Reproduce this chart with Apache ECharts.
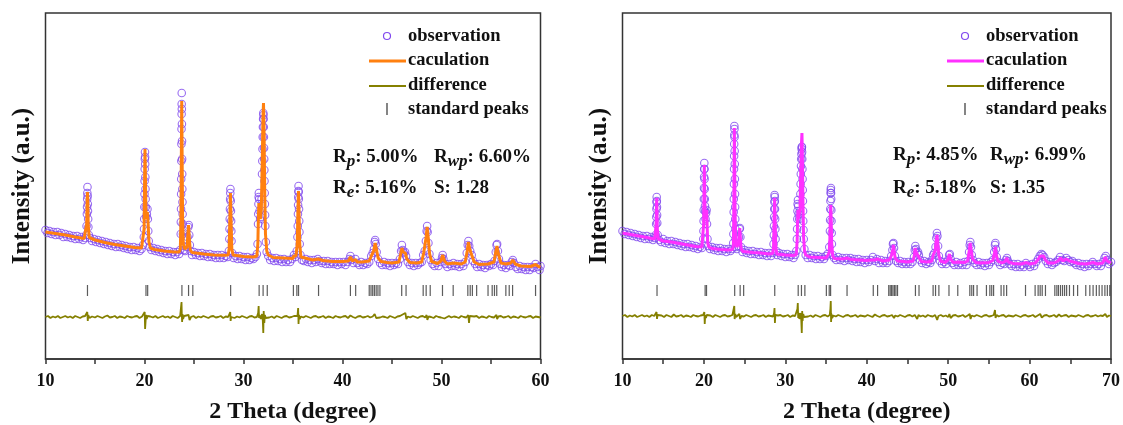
<!DOCTYPE html>
<html>
<head>
<meta charset="utf-8">
<script src="https://cdn.jsdelivr.net/npm/echarts@6/dist/echarts.min.js"></script>
<style>
  html, body { margin: 0; padding: 0; background: #fff; }
  #chart { width: 1123px; height: 425px; }
</style>
</head>
<body>
<div id="chart"></div>
<script>
// x axis ticks
const xTicksLeft = [10, 20, 30, 40, 50, 60];
const xTicksRight = [10, 20, 30, 40, 50, 60, 70];

// standard peak positions (2 theta)
const stdPeaks = [14.24, 20.15, 20.32, 23.78, 24.45, 24.88, 28.70, 31.58, 31.98, 32.40, 35.04, 35.39, 35.56,
  37.58, 40.80, 41.33, 42.70, 42.88, 43.05, 43.22, 43.40, 43.58, 43.78, 45.98, 46.42, 48.15, 48.45, 48.86,
  50.10, 51.18, 52.66, 52.90, 53.12, 53.55, 54.70, 55.12, 55.35, 55.58, 56.50, 56.84, 57.18, 59.50, 60.68,
  61.05, 61.30, 61.55, 61.95, 63.10, 63.35, 63.55, 63.80, 64.05, 64.30, 64.55, 64.90, 65.40, 65.90, 66.90,
  67.40, 67.80, 68.20, 68.55, 68.90, 69.25, 69.55, 69.85];

// left sample: observed intensity (a.u.)
const obsLeft = [[10.0,129],[10.2,126],[10.4,128],[10.6,125],[10.8,127],[11.0,124],[11.2,127],[11.4,124],[11.6,126],[11.8,122],
  [12.0,125],[12.2,122],[12.4,124],[12.6,121],[12.8,123],[13.0,120],[13.2,123],[13.4,120],[13.6,122],[13.8,119],[14.0,121],
  [14.1,124],[14.15,133],[14.18,145],[14.21,160],[14.24,172],[14.26,163],[14.29,148],[14.33,132],[14.38,124],
  [14.5,121],[14.7,118],[14.9,120],[15.1,117],[15.3,119],[15.5,116],[15.7,118],[15.9,115],[16.1,117],[16.3,114],[16.5,116],
  [16.7,113],[16.9,115],[17.1,112],[17.3,115],[17.5,112],[17.7,114],[17.9,111],[18.1,113],[18.3,110],[18.5,112],[18.7,109],
  [18.9,112],[19.1,109],[19.3,111],[19.5,108],[19.7,110],[19.85,114],
  [19.93,122],[19.97,140],[20.0,165],[20.02,190],[20.05,207],[20.07,195],[20.1,170],[20.13,152],[20.18,142],[20.24,145],
  [20.3,150],[20.34,140],[20.38,128],[20.43,118],[20.5,112],
  [20.7,109],[20.9,111],[21.1,108],[21.3,110],[21.5,107],[21.7,109],[21.9,106],[22.1,108],[22.3,105],[22.5,108],[22.7,105],
  [22.9,107],[23.1,104],[23.3,107],[23.5,105],[23.6,109],
  [23.66,125],[23.69,150],[23.71,180],[23.73,215],[23.75,245],[23.76,266],[23.78,235],[23.8,200],[23.82,170],[23.85,145],
  [23.88,125],[23.93,113],[24.0,109],[24.1,108],[24.25,112],[24.35,122],[24.42,132],[24.47,134],[24.52,124],[24.58,114],[24.65,108],
  [24.8,104],[25.0,107],[25.2,104],[25.4,106],[25.6,103],[25.8,106],[26.0,103],[26.2,105],[26.4,102],[26.6,105],[26.8,102],
  [27.0,104],[27.2,101],[27.4,104],[27.6,101],[27.8,104],[28.0,101],[28.2,103],[28.4,102],
  [28.52,108],[28.57,120],[28.61,140],[28.65,160],[28.68,170],[28.71,158],[28.75,138],[28.79,118],[28.85,106],
  [29.0,101],[29.2,103],[29.4,100],[29.6,103],[29.8,100],[30.0,102],[30.2,99],[30.4,102],[30.6,99],[30.8,101],[31.0,100],
  [31.2,102],[31.35,105],
  [31.42,115],[31.47,135],[31.51,155],[31.55,166],[31.58,160],[31.62,148],[31.68,140],[31.74,142],[31.82,160],[31.87,185],
  [31.92,210],[31.96,232],[32.0,246],[32.03,240],[32.06,222],[32.09,200],[32.12,178],[32.16,155],[32.2,133],[32.26,117],[32.34,107],
  [32.5,103],[32.7,99],[32.9,101],[33.1,98],[33.3,101],[33.5,98],[33.7,100],[33.9,97],[34.1,100],[34.3,97],[34.5,99],
  [34.7,97],[34.9,100],[35.1,104],[35.25,102],[35.38,108],
  [35.45,122],[35.5,145],[35.53,162],[35.56,173],[35.59,160],[35.63,138],[35.68,115],[35.75,104],
  [35.9,99],[36.1,98],[36.3,100],[36.5,97],[36.7,99],[36.9,96],[37.1,99],[37.3,97],[37.5,100],[37.7,98],[37.9,96],[38.1,98],
  [38.3,95],[38.5,98],[38.7,95],[38.9,97],[39.1,95],[39.3,97],[39.5,94],[39.7,97],[39.9,95],[40.1,97],[40.3,94],[40.5,97],
  [40.7,100],[40.8,103],[40.9,99],[41.1,96],[41.3,100],[41.5,96],[41.7,94],[41.9,97],[42.1,94],[42.3,96],[42.5,95],[42.7,97],
  [42.9,103],[43.05,106],[43.18,110],[43.25,117],[43.3,119],[43.36,115],[43.45,107],[43.6,100],[43.8,96],[44.0,94],[44.2,97],
  [44.4,94],[44.6,96],[44.8,93],[45.0,96],[45.2,94],[45.4,96],[45.6,95],[45.8,100],[45.92,108],[46.0,114],[46.08,109],
  [46.2,106],[46.32,107],[46.42,103],[46.6,97],[46.8,94],[47.0,96],[47.2,93],[47.4,96],[47.6,94],[47.8,96],[48.0,97],
  [48.15,104],[48.3,108],[48.42,118],[48.5,128],[48.55,133],[48.6,127],[48.68,116],[48.78,105],[48.9,99],[49.1,95],[49.3,93],
  [49.5,96],[49.7,93],[49.9,97],[50.05,101],[50.12,104],[50.2,100],[50.4,95],[50.6,92],[50.8,95],[51.0,93],[51.2,96],
  [51.4,93],[51.6,95],[51.8,92],[52.0,95],[52.2,93],[52.4,97],[52.55,106],[52.65,114],[52.72,118],[52.8,113],[52.9,108],
  [53.05,104],[53.2,98],[53.4,95],[53.6,92],[53.8,95],[54.0,92],[54.2,94],[54.4,91],[54.6,94],[54.8,93],[55.0,95],[55.2,94],
  [55.35,98],[55.48,107],[55.56,114],[55.62,115],[55.7,108],[55.8,100],[55.95,95],[56.1,92],[56.3,94],[56.5,91],[56.7,94],
  [56.9,93],[57.1,97],[57.2,99],[57.32,96],[57.5,92],[57.7,90],[57.9,93],[58.1,90],[58.3,92],[58.5,89],[58.7,92],[58.9,89],
  [59.1,92],[59.3,91],[59.5,95],[59.7,92],[59.9,89],[60.0,93],
  // extra points along the peak flanks
  [14.195,152],[14.225,166],[14.275,155],[14.31,140],
  [19.95,130],[19.985,152],[20.01,178],[20.035,200],[20.06,202],[20.085,182],[20.115,160],
  [23.67,137],[23.70,165],[23.72,198],[23.74,230],[23.755,255],[23.77,250],[23.79,218],[23.81,185],[23.835,157],[23.865,135],
  [28.59,130],[28.63,150],[28.665,166],[28.73,148],[28.77,128],
  [31.49,145],[31.53,162],[31.9,198],[31.94,222],[31.98,240],[32.015,244],[32.045,232],[32.075,211],[32.105,189],[32.14,166],[32.18,144],
  [35.48,133],[35.515,154],[35.545,168],[35.575,167],[35.61,150],[35.65,127]];

// left sample: calculated profile
const calcLeft = [[10,127],[11,125.5],[12,124],[13,122],[13.9,120.5],[14.08,122],[14.16,135],[14.21,160],[14.24,167],[14.27,158],
  [14.32,133],[14.42,121.5],[14.6,119.8],[15,119],[16,116.5],[17,114.5],[18,113],[19,111.5],[19.7,111],[19.88,113],[19.96,130],
  [20.01,180],[20.05,210],[20.09,185],[20.14,150],[20.2,140],[20.28,147],[20.32,149],[20.37,135],[20.45,117],[20.6,111],
  [21,109.5],[22,108],[23,107],[23.5,107],[23.62,110],[23.68,140],[23.72,200],[23.76,258],[23.8,205],[23.85,140],[23.92,115],
  [24.05,110],[24.3,112],[24.38,125],[24.45,134],[24.52,122],[24.62,109],[24.8,106.5],[25,106],[26,105],[27,104],[28,103.7],
  [28.45,104],[28.55,110],[28.62,140],[28.68,166],[28.74,140],[28.82,110],[28.95,104],[29,103.3],[30,102.5],[31,102],
  [31.35,103],[31.45,115],[31.5,140],[31.55,156],[31.6,145],[31.7,140],[31.8,150],[31.9,200],[31.96,240],[32.02,256],
  [32.08,225],[32.14,170],[32.22,125],[32.35,108],[32.5,104],[33,101.5],[34,101],[35,100.5],[35.05,103],[35.15,104],
  [35.3,103],[35.43,115],[35.5,150],[35.55,168],[35.6,150],[35.68,115],[35.8,102],[36,100],[37,99],[37.55,100],[38,98.5],
  [39,97.5],[40,97.5],[40.6,98],[40.8,102],[41,98],[41.3,99.5],[41.5,97],[42,97],[42.7,98],[42.95,104],[43.15,108],[43.3,116],
  [43.42,110],[43.6,101],[43.9,97.5],[44.5,96.5],[45,96],[45.7,97],[45.9,106],[46.0,111],[46.12,107],[46.35,106],[46.5,100],
  [46.8,96.5],[47.5,96],[48,97],[48.2,106],[48.35,108],[48.45,122],[48.55,132],[48.65,122],[48.8,105],[49,97.5],[49.6,95.5],
  [49.95,98],[50.12,104],[50.3,98],[50.6,95],[51.2,96],[52,95],[52.4,97],[52.6,108],[52.72,117],[52.85,110],[53.05,104],
  [53.3,97],[53.8,94.5],[54.7,95],[55.3,97],[55.5,108],[55.6,113],[55.72,106],[56,96],[56.5,95],[57,96],[57.2,99],[57.45,95],
  [58,93],[59,92.5],[59.5,94.5],[59.8,92.5],[60,92]];

// left sample: difference curve
const diffLeft = [[10,42],[10.25,43],[10.5,41],[10.75,42.5],[11,41.5],[11.25,43],[11.5,41],[11.75,42],[12,43],[12.25,41.5],
  [12.5,42.5],[12.75,41],[13,43],[13.25,42],[13.5,41],[13.75,42.5],[14.0,43],[14.15,45],[14.22,47],[14.27,38],[14.32,44],
  [14.45,41],[14.7,42.5],[15,41.5],[15.25,43],[15.5,42],[15.75,41],[16,42.5],[16.25,43.5],[16.5,41.5],[16.75,42],[17,43],
  [17.25,41],[17.5,42.5],[17.75,42],[18,41],[18.25,43],[18.5,42],[18.75,41.5],[19,42.5],[19.25,43],[19.5,41],[19.75,42.5],
  [19.95,44],[20.02,47],[20.06,30],[20.1,36],[20.15,44],[20.22,40],[20.3,43],[20.4,41],[20.6,42.5],[20.85,41.5],[21.1,43],
  [21.35,41],[21.6,42],[21.85,43],[22.1,41.5],[22.35,42.5],[22.6,41],[22.85,43],[23.1,42],[23.35,41],[23.6,43],[23.7,45],
  [23.74,57],[23.77,44],[23.8,37],[23.84,45],[23.9,40],[24.0,43],[24.2,41],[24.45,44],[24.55,39],[24.7,42],[24.95,43],
  [25.2,41],[25.45,42.5],[25.7,41.5],[25.95,43],[26.2,42],[26.45,41],[26.7,42.5],[26.95,43],[27.2,41.5],[27.45,42],[27.7,43],
  [27.95,41],[28.2,42.5],[28.45,42],[28.6,44],[28.66,47],[28.7,38],[28.75,42],[28.9,43],[29.1,41],[29.35,42.5],[29.6,41.5],
  [29.85,43],[30.1,42],[30.35,41],[30.6,42.5],[30.85,43],[31.1,41.5],[31.35,42],[31.48,46],[31.53,53],[31.57,41],[31.62,44],
  [31.75,40],[31.88,45],[31.95,38],[32.0,26],[32.04,48],[32.1,36],[32.16,44],[32.25,41],[32.4,43],[32.6,41.5],[32.85,42.5],
  [33.1,41],[33.35,43],[33.6,42],[33.85,41],[34.1,42.5],[34.35,43],[34.6,41.5],[34.85,42],[35.1,43],[35.3,41],[35.45,43],
  [35.52,51],[35.56,35],[35.6,44],[35.68,40],[35.8,42.5],[36.05,41.5],[36.3,43],[36.55,42],[36.8,41],[37.05,42.5],[37.3,43],
  [37.55,41.5],[37.8,42],[38.05,43],[38.3,41],[38.55,42.5],[38.8,42],[39.05,41],[39.3,43],[39.55,42],[39.8,41.5],[40.05,42.5],
  [40.3,43],[40.55,41],[40.8,43.5],[41.05,42],[41.3,41],[41.55,42.5],[41.8,43],[42.05,41.5],[42.3,42],[42.55,43],[42.8,41.5],
  [43.05,42.5],[43.25,45],[43.32,47],[43.4,41],[43.55,43],[43.8,41.5],[44.05,42.5],[44.3,42],[44.55,41],[44.8,43],[45.05,42],
  [45.3,41],[45.55,42.5],[45.8,43],[46.0,44],[46.35,46],[46.45,40],[46.6,42.5],[46.85,41.5],[47.1,43],[47.35,42],[47.6,41],
  [47.85,42.5],[48.1,43],[48.35,41.5],[48.5,44],[48.57,39],[48.7,42.5],[48.95,42],[49.2,41],[49.45,43],[49.7,42],[49.95,41.5],
  [50.15,43.5],[50.3,40.5],[50.5,42],[50.75,43],[51.0,41.5],[51.25,42.5],[51.5,42],[51.75,41],[52.0,43],[52.25,42],[52.5,41.5],
  [52.7,44],[52.78,36],[52.85,43],[53.05,41.5],[53.3,42.5],[53.55,43],[53.8,41],[54.05,42.5],[54.3,42],[54.55,41],[54.8,43],
  [55.05,42],[55.3,41.5],[55.55,44],[55.62,40],[55.75,42.5],[56.0,43],[56.25,41.5],[56.5,42],[56.75,43],[57.0,41],[57.25,42.5],
  [57.5,42],[57.75,41],[58.0,43],[58.25,42],[58.5,41.5],[58.75,42.5],[59.0,43],[59.25,41],[59.5,42.5],[59.75,42],[60,41.5]];

// right sample: observed intensity (a.u.)
const obsRight = [[10.0,128],[10.25,125],[10.5,127],[10.75,124],[11.0,126],[11.25,123],[11.5,125],[11.75,122],[12.0,124],
  [12.25,121],[12.5,123],[12.75,120],[13.0,123],[13.25,120],[13.5,122],[13.75,119],[13.95,121],
  [14.08,124],[14.13,135],[14.17,150],[14.2,162],[14.23,152],[14.27,136],[14.32,124],
  [14.5,119],[14.75,117],[15.0,120],[15.25,116],[15.5,118],[15.75,115],[16.0,118],[16.25,115],[16.5,117],[16.75,114],
  [17.0,116],[17.25,113],[17.5,115],[17.75,112],[18.0,115],[18.25,112],[18.5,114],[18.75,111],[19.0,113],[19.25,110],
  [19.5,112],[19.75,111],
  [19.92,120],[19.96,138],[19.99,160],[20.02,182],[20.05,196],[20.08,180],[20.11,160],[20.15,148],[20.2,140],[20.27,146],
  [20.33,149],[20.38,135],[20.44,120],[20.52,113],
  [20.75,110],[21.0,112],[21.25,109],[21.5,111],[21.75,108],[22.0,111],[22.25,108],[22.5,110],[22.75,107],[23.0,110],
  [23.25,108],[23.45,110],
  [23.6,116],[23.64,135],[23.67,160],[23.7,190],[23.72,215],[23.74,233],[23.76,222],[23.79,195],[23.82,165],[23.85,140],
  [23.89,120],[23.95,112],[24.05,110],[24.2,113],[24.3,122],[24.37,130],[24.42,131],[24.48,122],[24.56,112],
  [24.75,107],[25.0,109],[25.25,106],[25.5,108],[25.75,105],[26.0,108],[26.25,105],[26.5,107],[26.75,104],[27.0,107],
  [27.25,104],[27.5,106],[27.75,103],[28.0,106],[28.25,103],[28.45,106],
  [28.55,115],[28.6,133],[28.64,150],[28.68,164],[28.71,158],[28.75,140],[28.8,120],[28.88,108],
  [29.0,104],[29.25,106],[29.5,103],[29.75,105],[30.0,102],[30.25,105],[30.5,102],[30.75,104],[31.0,101],[31.2,104],[31.35,108],
  [31.42,120],[31.47,140],[31.51,155],[31.55,159],[31.58,153],[31.63,145],[31.7,140],[31.78,148],[31.85,165],[31.9,185],
  [31.95,200],[32.0,210],[32.04,212],[32.08,200],[32.12,180],[32.16,158],[32.2,138],[32.26,120],[32.34,110],
  [32.5,104],[32.75,101],[33.0,104],[33.25,101],[33.5,103],[33.75,100],[34.0,103],[34.25,100],[34.5,102],[34.75,100],
  [35.0,103],[35.2,105],[35.4,112],
  [35.48,128],[35.52,150],[35.56,166],[35.6,171],[35.63,160],[35.67,138],[35.72,115],[35.8,104],
  [36.0,101],[36.25,99],[36.5,102],[36.75,99],[37.0,101],[37.25,98],[37.5,101],[37.75,99],[38.0,101],[38.25,98],[38.5,100],
  [38.75,97],[39.0,100],[39.25,97],[39.5,99],[39.75,96],[40.0,99],[40.25,97],[40.5,99],[40.75,102],[41.0,98],[41.25,100],
  [41.5,96],[41.75,99],[42.0,96],[42.25,98],[42.5,96],[42.75,98],[43.0,103],[43.15,109],[43.22,115],[43.28,116],[43.35,111],
  [43.45,103],[43.6,98],[43.85,96],[44.1,98],[44.35,95],[44.6,97],[44.85,95],[45.1,97],[45.35,95],[45.6,97],[45.8,102],
  [45.9,109],[45.97,113],[46.05,110],[46.18,106],[46.3,107],[46.4,104],[46.55,99],[46.8,96],[47.05,98],[47.3,95],[47.55,97],
  [47.8,96],[48.0,99],[48.15,104],[48.3,106],[48.45,112],[48.55,121],[48.62,126],[48.68,123],[48.76,113],[48.86,103],[49.0,98],
  [49.25,95],[49.5,97],[49.75,95],[50.0,99],[50.12,104],[50.2,105],[50.3,100],[50.5,96],[50.75,94],[51.0,97],[51.25,94],
  [51.5,96],[51.75,94],[52.0,97],[52.25,94],[52.45,98],[52.57,107],[52.65,114],[52.72,117],[52.8,112],[52.9,104],[53.05,99],
  [53.25,96],[53.5,94],[53.75,97],[54.0,94],[54.25,96],[54.5,93],[54.75,96],[55.0,94],[55.25,97],[55.5,99],[55.65,107],
  [55.75,114],[55.8,116],[55.87,110],[55.97,102],[56.15,97],[56.4,94],[56.65,96],[56.9,95],[57.1,99],[57.22,101],[57.35,98],
  [57.55,95],[57.8,93],[58.05,95],[58.3,92],[58.55,95],[58.8,92],[59.05,94],[59.3,92],[59.55,96],[59.8,94],[60.05,92],
  [60.3,95],[60.55,93],[60.8,97],[61.05,100],[61.25,103],[61.45,105],[61.6,104],[61.8,102],[62.0,98],[62.25,95],[62.5,97],
  [62.75,94],[63.0,96],[63.25,97],[63.5,99],[63.75,102],[64.0,99],[64.25,98],[64.5,101],[64.75,99],[65.0,97],[65.25,98],
  [65.5,96],[65.75,94],[66.0,96],[66.25,93],[66.5,95],[66.75,92],[67.0,95],[67.25,93],[67.5,95],[67.75,97],[68.0,95],
  [68.25,93],[68.5,95],[68.75,93],[69.0,97],[69.2,101],[69.35,103],[69.5,99],[69.75,95],[70.0,97],
  // extra points along the peak flanks
  [14.15,142],[14.185,157],[14.215,158],[14.25,144],
  [19.94,128],[19.975,149],[20.005,171],[20.035,190],[20.065,190],[20.095,170],[20.13,153],
  [23.62,125],[23.655,147],[23.685,175],[23.71,203],[23.73,224],[23.75,230],[23.775,208],[23.805,180],[23.835,152],[23.87,130],
  [28.58,124],[28.62,142],[28.66,157],[28.695,162],[28.73,150],[28.775,130],
  [31.445,130],[31.49,148],[31.875,175],[31.925,193],[31.975,205],[32.02,212],[32.06,207],[32.1,190],[32.14,169],[32.18,148],[32.23,129],
  [35.5,139],[35.54,158],[35.58,169],[35.615,166],[35.65,149],[35.695,126]];

// right sample: calculated profile
const calcRight = [[10,126],[11,124.5],[12,123],[13,121.5],[13.95,120],[14.08,122],[14.14,135],[14.18,155],[14.2,161],
  [14.23,150],[14.28,130],[14.38,120],[14.6,118.5],[15,118],[16,117],[17,115.5],[18,114],[19,112.5],[19.75,112],[19.9,114],
  [19.97,135],[20.01,170],[20.05,194],[20.09,170],[20.14,148],[20.2,140],[20.28,146],[20.34,149],[20.39,135],[20.47,116],
  [20.6,112],[21,110.5],[22,109.5],[23,109],[23.5,109.5],[23.62,113],[23.67,150],[23.71,200],[23.74,231],[23.77,205],
  [23.82,150],[23.9,117],[24.05,112],[24.25,115],[24.34,125],[24.4,131],[24.47,122],[24.57,110],[24.8,107.5],[25,107],
  [26,106.5],[27,106],[28,105],[28.45,105.5],[28.55,112],[28.62,140],[28.69,161],[28.75,138],[28.83,112],[28.95,105],
  [29,104.5],[30,104],[31,103.5],[31.35,104.5],[31.45,118],[31.5,138],[31.55,149],[31.6,140],[31.7,138],[31.8,150],
  [31.9,190],[31.98,215],[32.04,226],[32.1,200],[32.16,160],[32.24,122],[32.36,108],[32.5,104],[33,102],[34,101.5],[35,101],
  [35.2,103],[35.38,106],[35.47,120],[35.53,145],[35.58,154],[35.63,140],[35.7,115],[35.82,103],[36,100.5],[37,100],
  [37.6,101],[38,99.5],[39,99],[40,98.5],[40.6,99],[40.8,101],[41,99],[41.3,100],[41.5,98],[42,98],[42.8,99],[43.05,104],
  [43.2,110],[43.27,114],[43.36,108],[43.5,101],[43.8,98],[44.5,97.5],[45,97],[45.7,98],[45.85,104],[45.95,111],[46.06,107],
  [46.3,106],[46.45,101],[46.7,97.5],[47.5,97],[48,98],[48.2,105],[48.4,108],[48.52,118],[48.63,124],[48.72,117],[48.85,104],
  [49.05,98],[49.6,96.5],[49.95,99],[50.15,105],[50.3,100],[50.6,96.5],[51.2,97],[52,96.5],[52.4,98],[52.58,108],[52.7,116],
  [52.82,109],[53,100],[53.4,96.5],[54,96],[55,96.5],[55.5,98.5],[55.68,106],[55.8,112],[55.9,105],[56.1,98],[56.6,96],
  [57.0,97.5],[57.2,101],[57.4,97],[58,95.5],[59,95],[59.6,96.5],[60,95],[60.7,96],[61.0,99],[61.3,103],[61.5,104],[61.7,103],
  [61.95,99],[62.3,96],[63,96],[63.5,98],[63.8,101],[64.1,98],[64.5,100],[64.9,98],[65.4,97],[66,95.5],[67,95],[67.8,96.5],
  [68.3,95],[69,96],[69.3,102],[69.5,98],[70,96]];

// right sample: difference curve
const diffRight = [[10,43],[10.3,44],[10.6,42],[10.9,43.5],[11.2,42.5],[11.5,44],[11.8,42],[12.1,43],[12.4,44],[12.7,42.5],
  [13.0,43.5],[13.3,42],[13.6,44],[13.9,43],[14.1,45],[14.18,47],[14.24,40],[14.3,44],[14.5,42.5],[14.8,43.5],[15.1,42],
  [15.4,44],[15.7,43],[16.0,42],[16.3,44.5],[16.6,42.5],[16.9,43],[17.2,44],[17.5,42],[17.8,43.5],[18.1,43],[18.4,42],
  [18.7,44],[19.0,43],[19.3,42.5],[19.6,43.5],[19.9,44],[20.0,45],[20.05,47],[20.1,35],[20.16,44],[20.25,41],[20.35,44],
  [20.5,42.5],[20.8,43.5],[21.1,42],[21.4,44],[21.7,43],[22.0,42],[22.3,43.5],[22.6,44],[22.9,42.5],[23.2,43],[23.5,44],
  [23.68,45],[23.73,53],[23.77,40],[23.81,38],[23.86,45],[23.95,42],[24.1,44],[24.35,45],[24.45,40],[24.6,43],[24.9,42.5],
  [25.2,44],[25.5,43],[25.8,42],[26.1,43.5],[26.4,44],[26.7,42.5],[27.0,43],[27.3,44],[27.6,42],[27.9,43.5],[28.2,43],
  [28.5,42.5],[28.62,46],[28.67,51],[28.72,36],[28.78,44],[28.9,42],[29.1,43.5],[29.4,44],[29.7,42.5],[30.0,43],[30.3,44],
  [30.6,42],[30.9,43.5],[31.2,43],[31.4,44],[31.48,50],[31.53,56],[31.58,41],[31.64,46],[31.72,40],[31.85,46],[31.95,40],
  [32.02,26],[32.07,48],[32.12,38],[32.2,45],[32.3,42],[32.5,44],[32.8,42.5],[33.1,43.5],[33.4,42],[33.7,44],[34.0,43],
  [34.3,42],[34.6,43.5],[34.9,44],[35.2,42.5],[35.45,44],[35.53,50],[35.58,58],[35.62,37],[35.67,45],[35.75,41],[35.9,43.5],
  [36.2,42.5],[36.5,44],[36.8,43],[37.1,42],[37.4,43.5],[37.7,44],[38.0,42.5],[38.3,43],[38.6,44],[38.9,42],[39.2,43.5],
  [39.5,43],[39.8,42.5],[40.1,44],[40.4,43],[40.7,42],[41.0,44.5],[41.3,43],[41.6,42],[41.9,43.5],[42.2,44],[42.5,42.5],
  [42.8,43],[43.1,44],[43.25,46],[43.35,41],[43.5,43.5],[43.8,42.5],[44.1,44],[44.4,43],[44.7,42],[45.0,43.5],[45.3,44],
  [45.6,42.5],[45.9,44],[46.1,46],[46.2,40],[46.35,44],[46.6,42.5],[46.9,43.5],[47.2,42],[47.5,44],[47.8,43],[48.1,42.5],
  [48.4,44],[48.55,45],[48.65,39],[48.8,43],[49.1,44],[49.4,42.5],[49.7,43.5],[50.0,42],[50.15,45],[50.3,41],[50.6,43.5],
  [50.9,44],[51.2,42.5],[51.5,43],[51.8,44],[52.1,42],[52.4,43.5],[52.65,45],[52.75,40],[52.9,43.5],[53.2,42.5],[53.5,44],
  [53.8,43],[54.1,42],[54.4,43.5],[54.7,44],[55.0,42.5],[55.3,43],[55.6,44],[55.75,49],[55.82,41],[55.95,44],[56.2,42.5],
  [56.5,43.5],[56.8,44],[57.1,42],[57.4,43.5],[57.7,43],[58.0,42.5],[58.3,44],[58.6,43],[58.9,42],[59.2,43.5],[59.5,44],
  [59.8,42.5],[60.1,43],[60.4,44],[60.7,42],[61.0,43.5],[61.3,45],[61.5,41.5],[61.8,43.5],[62.1,44],[62.4,42.5],[62.7,43],
  [63.0,44],[63.3,42],[63.6,44.5],[63.9,42.5],[64.2,43.5],[64.5,44],[64.8,42],[65.1,43.5],[65.4,43],[65.7,42.5],[66.0,44],
  [66.3,43],[66.6,42],[66.9,43.5],[67.2,44],[67.5,42.5],[67.8,43],[68.1,44],[68.4,42.5],[68.7,43.5],[69.0,43],[69.3,45],
  [69.5,42],[69.75,43.5],[70,43]];

const legendNames = ['observation', 'caculation', 'difference', 'standard peaks'];
const statsLeft = [['R', 'p', ': 5.00%'], ['R', 'wp', ': 6.60%'], ['R', 'e', ': 5.16%'], ['S', '', ': 1.28']];
const statsRight = [['R', 'p', ': 4.85%'], ['R', 'wp', ': 6.99%'], ['R', 'e', ': 5.18%'], ['S', '', ': 1.35']];

const OBS_COLOR = '#8048ee';
const DIFF_COLOR = '#858000';
const AXIS_COLOR = '#333';
const FONT = '"Liberation Serif", "Times New Roman", serif';
const TICK_Y = 68.5;

const chart = echarts.init(document.getElementById('chart'));

function makeX(idx, max, ticks) {
    return {
        type: 'value', gridIndex: idx, min: 10, max: max, interval: 5,
        name: '2 Theta (degree)', nameLocation: 'middle', nameGap: 41,
        nameTextStyle: { fontFamily: FONT, fontWeight: 'bold', fontSize: 24, color: '#111' },
        axisLine: { lineStyle: { color: AXIS_COLOR, width: 1.5 } },
        axisTick: { inside: false, length: 5, lineStyle: { color: AXIS_COLOR, width: 1.5 } },
        axisLabel: {
            margin: 13, fontFamily: FONT, fontWeight: 'bold', fontSize: 18, color: '#111',
            formatter: v => ticks.indexOf(v) >= 0 ? String(v) : ''
        },
        splitLine: { show: false }
    };
}

function makeY(idx) {
    return {
        type: 'value', gridIndex: idx, min: 0, max: 346,
        name: 'Intensity (a.u.)', nameLocation: 'middle', nameGap: 10,
        nameTextStyle: { fontFamily: FONT, fontWeight: 'bold', fontSize: 25, color: '#111' },
        axisLine: { show: false }, axisTick: { show: false }, axisLabel: { show: false },
        splitLine: { show: false }
    };
}

function makeSeries(idx, obs, calc, diff, calcColor, max) {
    return [
        {
            type: 'scatter', xAxisIndex: idx, yAxisIndex: idx, data: obs, z: 2,
            symbol: 'circle', symbolSize: 7.5,
            itemStyle: { color: 'rgba(0,0,0,0)', borderColor: OBS_COLOR, borderWidth: 1.1 }
        },
        {
            type: 'line', xAxisIndex: idx, yAxisIndex: idx, data: calc, z: 3,
            showSymbol: false, lineStyle: { color: calcColor, width: 3 }
        },
        {
            type: 'line', xAxisIndex: idx, yAxisIndex: idx, data: diff, z: 3,
            showSymbol: false, lineStyle: { color: DIFF_COLOR, width: 1.8 }
        },
        {
            type: 'scatter', xAxisIndex: idx, yAxisIndex: idx, z: 3,
            data: stdPeaks.filter(p => p <= max).map(p => [p, TICK_Y]),
            symbol: 'rect', symbolSize: [1.2, 11], itemStyle: { color: AXIS_COLOR }
        }
    ];
}

function legendGraphics(dx, calcColor) {
    const txt = { fontFamily: FONT, fontWeight: 'bold', fontSize: 18.5, fill: '#111', verticalAlign: 'middle' };
    const rows = [36, 60, 85, 109];
    const g = [
        { type: 'circle', shape: { cx: 387 + dx, cy: rows[0], r: 3.5 }, style: { fill: 'none', stroke: OBS_COLOR, lineWidth: 1.2 } },
        { type: 'line', shape: { x1: 369 + dx, y1: rows[1] + 1, x2: 406 + dx, y2: rows[1] + 1 }, style: { stroke: calcColor, lineWidth: 3 } },
        { type: 'line', shape: { x1: 369 + dx, y1: rows[2] + 1, x2: 406 + dx, y2: rows[2] + 1 }, style: { stroke: DIFF_COLOR, lineWidth: 2 } },
        { type: 'line', shape: { x1: 387 + dx, y1: rows[3] - 6, x2: 387 + dx, y2: rows[3] + 6 }, style: { stroke: AXIS_COLOR, lineWidth: 1.2 } }
    ];
    legendNames.forEach((n, i) => {
        g.push({ type: 'text', x: 408 + dx, y: rows[i], style: Object.assign({ text: n }, txt) });
    });
    return g;
}

function statGraphics(stats, xs, ys) {
    const rich = {
        m: { fontFamily: FONT, fontWeight: 'bold', fontSize: 19, fill: '#111', lineHeight: 26, verticalAlign: 'middle' },
        s: { fontFamily: FONT, fontWeight: 'bold', fontStyle: 'italic', fontSize: 17, fill: '#111', lineHeight: 12, verticalAlign: 'bottom' }
    };
    return stats.map((s, i) => ({
        type: 'text', x: xs[i % 2], y: ys[Math.floor(i / 2)],
        style: {
            text: '{m|' + s[0] + '}' + (s[1] ? '{s|' + s[1] + '}' : '') + '{m|' + s[2] + '}',
            rich: rich, verticalAlign: 'middle'
        }
    }));
}

chart.setOption({
    animation: false,
    backgroundColor: '#fff',
    grid: [
        { left: 45.5, right: 582.5, top: 13, bottom: 66, outerBoundsMode: 'none', show: true, borderColor: AXIS_COLOR, borderWidth: 1.5 },
        { left: 622.5, right: 12, top: 13, bottom: 66, outerBoundsMode: 'none', show: true, borderColor: AXIS_COLOR, borderWidth: 1.5 }
    ],
    xAxis: [makeX(0, 60, xTicksLeft), makeX(1, 70, xTicksRight)],
    yAxis: [makeY(0), makeY(1)],
    series: makeSeries(0, obsLeft, calcLeft, diffLeft, '#ff8010', 60)
        .concat(makeSeries(1, obsRight, calcRight, diffRight, '#ff30ff', 70)),
    graphic: legendGraphics(0, '#ff8010')
        .concat(legendGraphics(578, '#ff30ff'))
        .concat(statGraphics(statsLeft, [333, 434], [157, 188]))
        .concat(statGraphics(statsRight, [893, 990], [155, 188]))
});
</script>
</body>
</html>
